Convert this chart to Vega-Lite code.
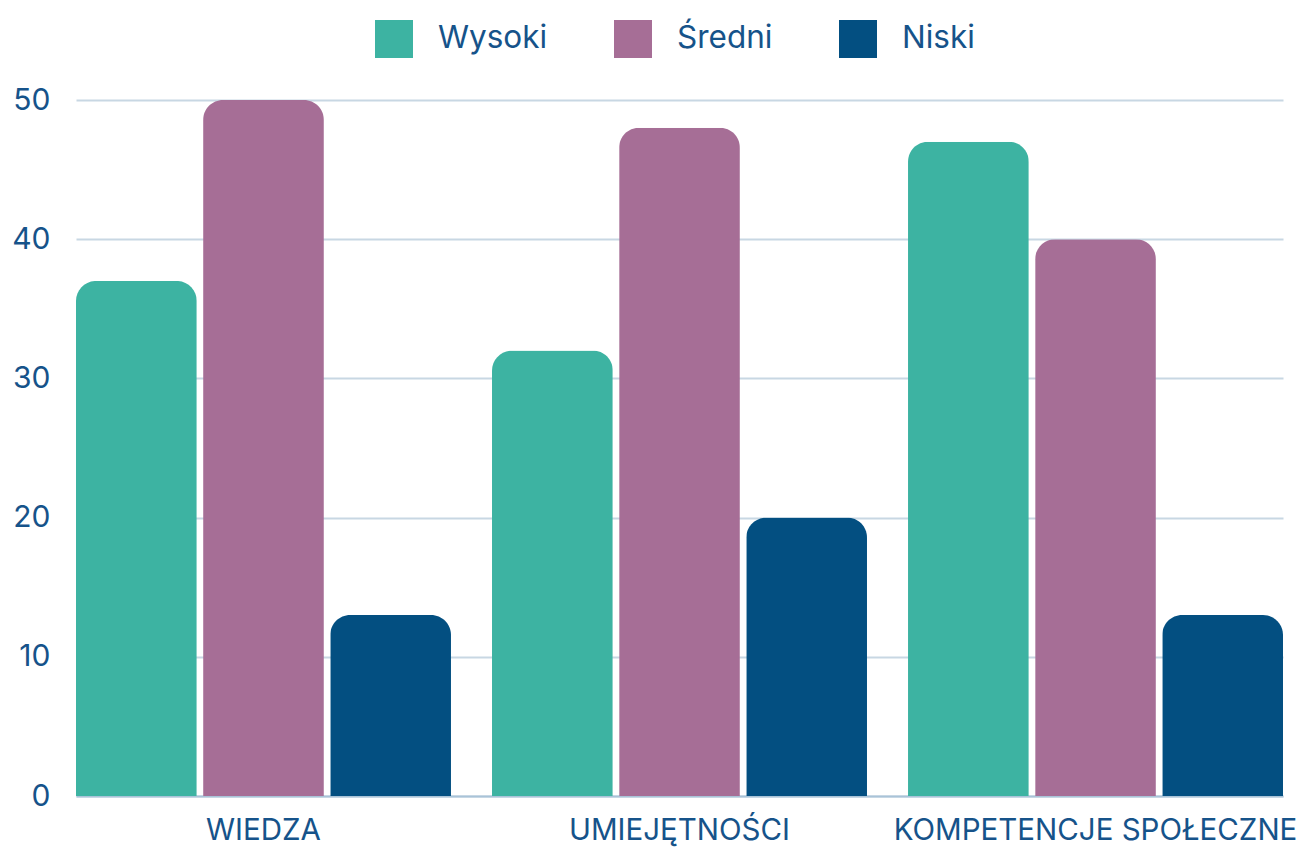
{
  "$schema": "https://vega.github.io/schema/vega-lite/v6.json",
  "width": 1207,
  "height": 696,
  "autosize": {"type": "none"},
  "padding": {"left": 76, "top": 100, "right": 16, "bottom": 54},
  "background": "#ffffff",
  "data": {
    "values": [
      {"kategoria": "WIEDZA", "poziom": "Wysoki", "wartosc": 37},
      {"kategoria": "WIEDZA", "poziom": "Średni", "wartosc": 50},
      {"kategoria": "WIEDZA", "poziom": "Niski", "wartosc": 13},
      {"kategoria": "UMIEJĘTNOŚCI", "poziom": "Wysoki", "wartosc": 32},
      {"kategoria": "UMIEJĘTNOŚCI", "poziom": "Średni", "wartosc": 48},
      {"kategoria": "UMIEJĘTNOŚCI", "poziom": "Niski", "wartosc": 20},
      {"kategoria": "KOMPETENCJE SPOŁECZNE", "poziom": "Wysoki", "wartosc": 47},
      {"kategoria": "KOMPETENCJE SPOŁECZNE", "poziom": "Średni", "wartosc": 40},
      {"kategoria": "KOMPETENCJE SPOŁECZNE", "poziom": "Niski", "wartosc": 13}
    ]
  },
  "mark": {"type": "bar", "cornerRadiusTopLeft": 20, "cornerRadiusTopRight": 20},
  "encoding": {
    "x": {
      "field": "kategoria",
      "type": "nominal",
      "sort": ["WIEDZA", "UMIEJĘTNOŚCI", "KOMPETENCJE SPOŁECZNE"],
      "scale": {"paddingInner": 0.0986, "paddingOuter": 0},
      "axis": {
        "title": null,
        "labelAngle": 0,
        "labelFont": "Inter",
        "labelFontSize": 29.5,
        "labelColor": "#16538a",
        "labelPadding": 20,
        "labelLimit": 0,
        "labelOverlap": false,
        "labelFlush": false,
        "ticks": false,
        "grid": false,
        "domain": true,
        "domainColor": "#a9c3d8",
        "domainWidth": 2
      }
    },
    "xOffset": {
      "field": "poziom",
      "type": "nominal",
      "sort": ["Wysoki", "Średni", "Niski"],
      "scale": {"paddingInner": 0.05, "paddingOuter": 0}
    },
    "y": {
      "field": "wartosc",
      "type": "quantitative",
      "scale": {"domain": [0, 50], "nice": false},
      "axis": {
        "title": null,
        "values": [0, 10, 20, 30, 40, 50],
        "labelFont": "Inter",
        "labelFontSize": 30,
        "labelColor": "#16538a",
        "labelPadding": 26,
        "ticks": false,
        "domain": false,
        "grid": true,
        "gridColor": "#c8d7e3",
        "gridWidth": 2
      }
    },
    "color": {
      "field": "poziom",
      "type": "nominal",
      "scale": {
        "domain": ["Wysoki", "Średni", "Niski"],
        "range": ["#3db3a2", "#a66e96", "#034f81"]
      },
      "legend": {
        "title": null,
        "orient": "none",
        "direction": "horizontal",
        "legendX": 299,
        "legendY": -80,
        "symbolType": "square",
        "symbolSize": 1444,
        "symbolStrokeWidth": 0,
        "symbolOpacity": 1,
        "labelFont": "Inter",
        "labelFontSize": 31.5,
        "labelColor": "#16538a",
        "labelOffset": 25,
        "columnPadding": 66,
        "padding": 0
      }
    }
  },
  "config": {
    "view": {"stroke": null}
  }
}
